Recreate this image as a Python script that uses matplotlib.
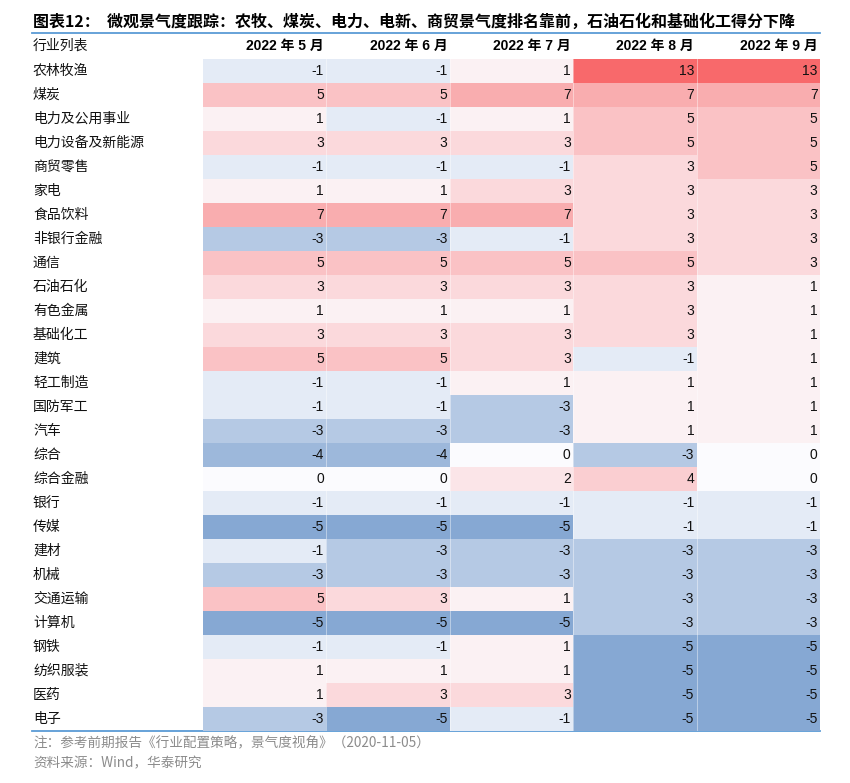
import matplotlib
matplotlib.use('Agg')
import matplotlib.pyplot as plt
import matplotlib.transforms as mtransforms
from matplotlib.colors import LinearSegmentedColormap, TwoSlopeNorm
import numpy as np

plt.rcParams['font.family'] = ['Liberation Sans', 'Noto Sans CJK SC']

title = '图表12：  微观景气度跟踪：农牧、煤炭、电力、电新、商贸景气度排名靠前，石油石化和基础化工得分下降'
corner_label = '行业列表'
months = ['2022 年 5 月', '2022 年 6 月', '2022 年 7 月', '2022 年 8 月', '2022 年 9 月']
industries = ['农林牧渔', '煤炭', '电力及公用事业', '电力设备及新能源', '商贸零售', '家电',
              '食品饮料', '非银行金融', '通信', '石油石化', '有色金属', '基础化工', '建筑',
              '轻工制造', '国防军工', '汽车', '综合', '综合金融', '银行', '传媒', '建材',
              '机械', '交通运输', '计算机', '钢铁', '纺织服装', '医药', '电子']
scores_may = [-1, 5, 1, 3, -1, 1, 7, -3, 5, 3, 1, 3, 5, -1, -1, -3, -4, 0, -1, -5, -1, -3, 5, -5, -1, 1, 1, -3]
scores_jun = [-1, 5, -1, 3, -1, 1, 7, -3, 5, 3, 1, 3, 5, -1, -1, -3, -4, 0, -1, -5, -3, -3, 3, -5, -1, 1, 3, -5]
scores_jul = [1, 7, 1, 3, -1, 3, 7, -1, 5, 3, 1, 3, 3, 1, -3, -3, 0, 2, -1, -5, -3, -3, 1, -5, 1, 1, 3, -1]
scores_aug = [13, 7, 5, 5, 3, 3, 3, 3, 5, 3, 3, 3, -1, 1, 1, 1, -3, 4, -1, -1, -3, -3, -3, -3, -5, -5, -5, -5]
scores_sep = [13, 7, 5, 5, 5, 3, 3, 3, 3, 1, 1, 1, 1, 1, 1, 1, 0, 0, -1, -1, -3, -3, -3, -3, -5, -5, -5, -5]
note = '注：参考前期报告《行业配置策略，景气度视角》（2020-11-05）'
source = '资料来源：Wind，华泰研究'

W, H = 850, 783
fig = plt.figure(figsize=(W / 100, H / 100), dpi=100)
bg = fig.add_axes([0, 0, 1, 1])
bg.set_xlim(0, W)
bg.set_ylim(H, 0)
bg.axis('off')

# table body area in pixels
left, right, top, bottom = 203, 820, 59, 731
hm = fig.add_axes([left / W, (H - bottom) / H, (right - left) / W, (bottom - top) / H])

data = np.array([scores_may, scores_jun, scores_jul, scores_aug, scores_sep]).T
cmap = LinearSegmentedColormap.from_list('score', ['#86A8D3', '#FCFCFF', '#F8696B'])
norm = TwoSlopeNorm(vmin=-5, vcenter=0, vmax=13)
hm.imshow(data, cmap=cmap, norm=norm, aspect='auto', interpolation='nearest')
hm.set_xlim(-0.5, len(months) - 0.5)
hm.set_ylim(len(industries) - 0.5, -0.5)
hm.axis('off')

# faint separators between columns
for j in range(1, len(months)):
    hm.axvline(j - 0.5, color='white', lw=0.6, alpha=0.5)

for i in range(len(industries)):
    for j in range(len(months)):
        hm.text(j + 0.48, i, str(data[i, j]), ha='right', va='center',
                fontsize=10, color='#111111')

for j, m in enumerate(months):
    hm.text(j + 0.48, -1.05, m, ha='right', va='center', fontsize=10,
            fontweight='bold', clip_on=False)

mixed = mtransforms.blended_transform_factory(bg.transData, hm.transData)
for i, name in enumerate(industries):
    bg.text(33, i, name, transform=mixed, ha='left', va='center', fontsize=10,
            family='Noto Sans CJK SC', color='#111111')
bg.text(33, -1.05, corner_label, transform=mixed, ha='left', va='center',
        fontsize=10, family='Noto Sans CJK SC', color='#111111')

bg.text(33, 22, title, ha='left', va='center', fontsize=11.5, fontweight='bold',
        family=['Noto Sans CJK SC', 'Liberation Sans'])
bg.plot([32, 820], [32.5, 32.5], color='#5B9BD5', lw=1.3)
bg.plot([32, 820], [731, 731], color='#5B9BD5', lw=1.3)

bg.text(33, 743, note, ha='left', va='center', fontsize=9.8, color='#8C8C8C',
        family=['Noto Sans CJK SC', 'Liberation Sans'])
bg.text(33, 763, source, ha='left', va='center', fontsize=9.8, color='#8C8C8C',
        family=['Noto Sans CJK SC', 'Liberation Sans'])

fig.savefig('out.png', dpi=100)
